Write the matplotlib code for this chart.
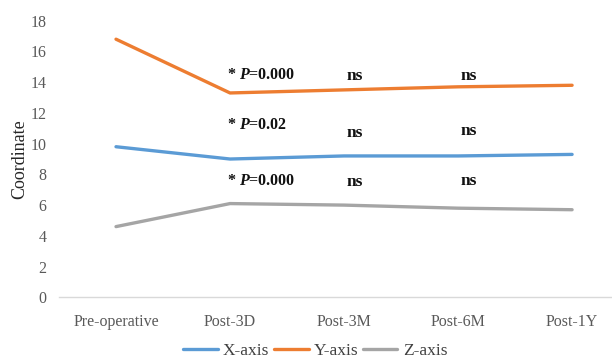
import matplotlib
matplotlib.use("Agg")
import matplotlib.pyplot as plt

categories = ["Pre-operative", "Post-3D", "Post-3M", "Post-6M", "Post-1Y"]
x_axis = [9.8, 9.0, 9.2, 9.2, 9.3]
y_axis = [16.8, 13.3, 13.5, 13.7, 13.8]
z_axis = [4.6, 6.1, 6.0, 5.8, 5.7]
series_names = ["X-axis", "Y-axis", "Z-axis"]
y_ticks = [0, 2, 4, 6, 8, 10, 12, 14, 16, 18]

# significance labels: (category index, y position, text)
sig_labels = [
    (1, 14.5, "* $P$=0.000"), (1, 11.2, "* $P$=0.02"), (1, 7.6, "* $P$=0.000"),
    (2, 14.4, "ns"), (2, 10.7, "ns"), (2, 7.5, "ns"),
    (3, 14.4, "ns"), (3, 10.8, "ns"), (3, 7.6, "ns"),
]

plt.rcParams["font.family"] = ["Liberation Serif", "DejaVu Serif"]
plt.rcParams["mathtext.fontset"] = "custom"
plt.rcParams["mathtext.it"] = "Liberation Serif:italic:bold"
plt.rcParams["mathtext.rm"] = "Liberation Serif:bold"

colors = ["#5B9BD5", "#ED7D31", "#A5A5A5"]
fig = plt.figure(figsize=(6.12, 3.61), dpi=100)
ax = fig.add_axes([0.0964, 0.1765, 0.9036, 0.766])

xs = range(len(categories))
for vals, name, c in zip([x_axis, y_axis, z_axis], series_names, colors):
    ax.plot(xs, vals, color=c, lw=2.4, label=name, solid_capstyle="round")

for i, yv, txt in sig_labels:
    if txt == "ns":
        ax.text(i + 0.09, yv, txt, ha="center", va="center", fontsize=12.5,
                fontweight="bold", color="#111111")
    else:
        ax.text(i - 0.03, yv, txt, ha="left", va="center", fontsize=11.5,
                fontweight="bold", color="#111111")

ax.set_xlim(-0.5, 4.35)
ax.set_ylim(0, 18)
ax.set_xticks(list(xs))
ax.set_xticklabels(categories)
ax.set_yticks(y_ticks)
ax.tick_params(axis="both", length=0, labelsize=11.5, labelcolor="#595959")
ax.tick_params(axis="x", pad=12)
ax.tick_params(axis="y", pad=9)
for s in ["top", "right", "left"]:
    ax.spines[s].set_visible(False)
ax.spines["bottom"].set_color("#D9D9D9")
ax.spines["bottom"].set_linewidth(1.0)
ax.set_ylabel("Coordinate", fontsize=13, color="#262626")
ax.yaxis.set_label_coords(-0.056, 0.5)

fig.legend(loc="lower center", bbox_to_anchor=(0.515, -0.038), ncol=3,
           frameon=False, fontsize=12.5, handlelength=2.0, handletextpad=0.3,
           columnspacing=0.25, labelcolor="#404040")

fig.savefig("out.png", dpi=100)
